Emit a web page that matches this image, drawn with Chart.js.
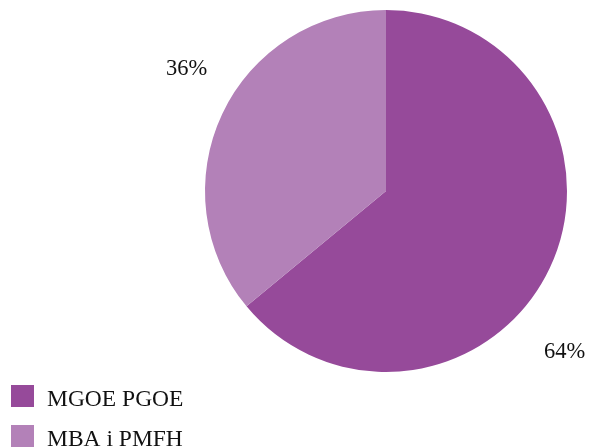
<!DOCTYPE html>
<html>
<head>
<meta charset="utf-8">
<script src="https://cdn.jsdelivr.net/npm/chart.js@4"></script>
<style>
html,body{margin:0;padding:0;background:#fff;}
#wrap{position:relative;width:591px;height:447px;}
</style>
</head>
<body>
<div id="wrap"><canvas id="c" width="591" height="447"></canvas></div>
<script>
const categories = ["MGOE PGOE", "MBA i PMFH"];
const values = [64, 36];
const valueLabels = ["64%", "36%"];
const colors = ["#964A9A", "#B381B8"];

const FONT = '"Liberation Serif", "DejaVu Serif", serif';

const extras = {
  id: 'extras',
  afterDraw(chart) {
    const ctx = chart.ctx;
    const meta = chart.getDatasetMeta(0);
    ctx.save();
    ctx.fillStyle = '#111';
    ctx.font = '22.5px ' + FONT;
    ctx.textAlign = 'center';
    ctx.textBaseline = 'middle';
    // label placement: angle offset from slice mid-angle and radial factor
    const place = [{off: 0.295, f: 1.33}, {off: 0.108, f: 1.29}];
    meta.data.forEach((arc, i) => {
      const mid = (arc.startAngle + arc.endAngle) / 2 + place[i].off;
      const r = arc.outerRadius * place[i].f;
      ctx.fillText(valueLabels[i], arc.x + Math.cos(mid) * r, arc.y + Math.sin(mid) * r);
    });
    // legend
    ctx.font = '23.5px ' + FONT;
    ctx.textAlign = 'left';
    ctx.textBaseline = 'alphabetic';
    categories.forEach((name, i) => {
      const y0 = 385 + i * 40;
      ctx.fillStyle = colors[i];
      ctx.fillRect(11, y0, 23, 22);
      ctx.fillStyle = '#111';
      ctx.fillText(name, 47, y0 + 21);
    });
    ctx.restore();
  }
};

new Chart(document.getElementById('c'), {
  type: 'pie',
  data: {
    labels: categories,
    datasets: [{
      data: values,
      backgroundColor: colors,
      borderWidth: 0
    }]
  },
  options: {
    responsive: false,
    animation: false,
    layout: { padding: { left: 205, right: 24, top: 10, bottom: 75 } },
    plugins: { legend: { display: false }, tooltip: { enabled: false } }
  },
  plugins: [extras]
});
</script>
</body>
</html>
